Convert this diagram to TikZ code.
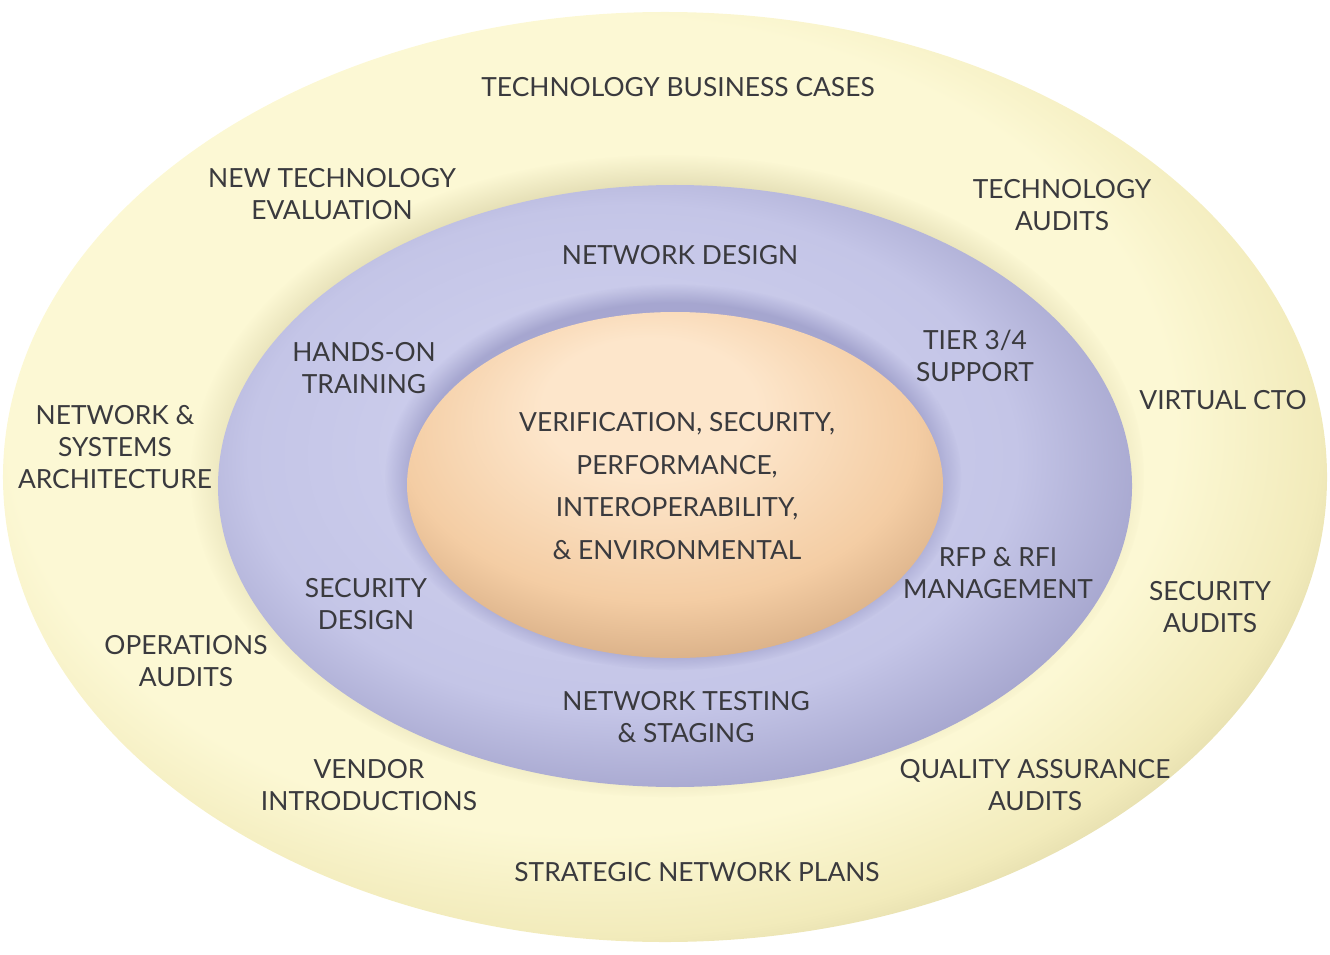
\documentclass[tikz,border=0pt]{standalone}
\usepackage{fontspec}
\setmainfont{Lato}
\usepackage{tikz}
\usetikzlibrary{fadings}

\definecolor{ylight}{HTML}{FCF8D4}
\definecolor{ymid}{HTML}{F2EBBB}
\definecolor{ydark}{HTML}{C9C192}
\definecolor{lavlight}{HTML}{D3D4F0}
\definecolor{lavmid}{HTML}{C4C5E7}
\definecolor{lavdark}{HTML}{9D9DC7}
\definecolor{lavshade}{HTML}{8E8EBE}
\definecolor{orlight}{HTML}{FDE6CB}
\definecolor{ormid}{HTML}{F4CDA4}
\definecolor{ordark}{HTML}{B98D65}
\definecolor{txtgray}{HTML}{3A3A3E}

\pgfdeclareradialshading{yellowring}{\pgfpoint{-5bp}{5bp}}{color(0bp)=(ylight); color(22bp)=(ylight); color(27bp)=(ymid); color(32bp)=(ydark); color(50bp)=(ydark)}
\pgfdeclareradialshading{lavring}{\pgfpoint{-4bp}{4bp}}{color(0bp)=(lavlight); color(21bp)=(lavmid); color(30bp)=(lavdark); color(50bp)=(lavdark)}
\pgfdeclareradialshading{orangecore}{\pgfpoint{-3bp}{14bp}}{color(0bp)=(orlight); color(10bp)=(orlight); color(24bp)=(ormid); color(40bp)=(ordark); color(50bp)=(ordark)}

\tikzset{lbl/.style={align=center, text=txtgray, inner sep=0pt, font=\fontsize{15}{18}\selectfont},
	halo/.style={path fading=circle with fuzzy edge 10 percent, fit fading=true}}

\begin{document}
\begin{tikzpicture}[x=0.2mm, y=-0.2mm]
		\useasboundingbox (0,0) rectangle (1330,954);
		
		\path[shading=yellowring] (665,477) ellipse [x radius=132.4mm, y radius=93mm];
		\path[halo, fill=ydark, fill opacity=0.45] (668,476) ellipse [x radius=95.4mm, y radius=64.2mm];
		\path[shading=lavring] (675,486) ellipse [x radius=91.4mm, y radius=60.2mm];
		\path[halo, fill=lavshade, fill opacity=0.6] (673,477) ellipse [x radius=57.6mm, y radius=38.6mm];
		\path[shading=orangecore] (675,485) ellipse [x radius=53.6mm, y radius=34.6mm];
		
		\node[lbl] (tbc) at (678,87) {TECHNOLOGY BUSINESS CASES};
		\node[lbl] (nte) at (332,194) {NEW TECHNOLOGY\\EVALUATION};
		\node[lbl] (ta) at (1062,205) {TECHNOLOGY\\AUDITS};
		\node[lbl] (nd) at (680,255) {NETWORK DESIGN};
		\node[lbl] (hot) at (364,368) {HANDS-ON\\TRAINING};
		\node[lbl] (tier) at (975,356) {TIER 3/4\\SUPPORT};
		\node[lbl] (vcto) at (1223,400) {VIRTUAL CTO};
		\node[lbl] (nsa) at (115,447) {NETWORK \&\\SYSTEMS\\ARCHITECTURE};
		\node[lbl, font=\fontsize{15}{24.4}\selectfont] (core) at (677,486) {VERIFICATION, SECURITY,\\PERFORMANCE,\\INTEROPERABILITY,\\\& ENVIRONMENTAL};
		\node[lbl] (rfp) at (998,573) {RFP \& RFI\\MANAGEMENT};
		\node[lbl] (sd) at (366,604) {SECURITY\\DESIGN};
		\node[lbl] (sa) at (1210,607) {SECURITY\\AUDITS};
		\node[lbl] (oa) at (186,661) {OPERATIONS\\AUDITS};
		\node[lbl] (nts) at (686,717) {NETWORK TESTING\\\& STAGING};
		\node[lbl] (vi) at (369,785) {VENDOR\\INTRODUCTIONS};
		\node[lbl] (qaa) at (1035,785) {QUALITY ASSURANCE\\AUDITS};
		\node[lbl] (snp) at (697,872) {STRATEGIC NETWORK PLANS};
\end{tikzpicture}
\end{document}
